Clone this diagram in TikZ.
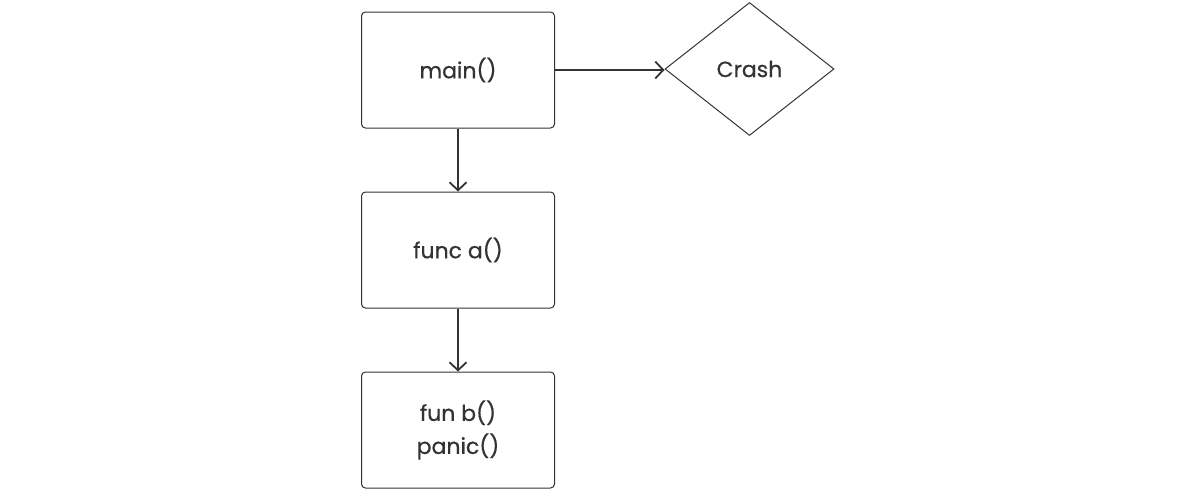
\documentclass[tikz,border=0pt]{standalone}
\usepackage{fontspec}
\setmainfont[FakeBold=0.6]{Poppins}
\usetikzlibrary{arrows.meta,shapes.geometric}
\definecolor{ink}{HTML}{333333}
\begin{document}
\begin{tikzpicture}[x=1pt,y=-1pt,
  box/.style={draw=ink,line width=1pt,rounded corners=4pt,minimum width=193pt,minimum height=116pt,inner sep=0pt,align=center,font=\fontsize{22}{33}\selectfont,text=ink},
  crashbox/.style={draw=ink,line width=1pt,diamond,minimum width=169pt,minimum height=133pt,aspect=1.27,inner sep=0pt,font=\fontsize{22}{33}\selectfont,text=ink},
  link/.style={draw=ink,line width=1.8pt,-{Straight Barb[length=8pt,width=17pt,line width=1.8pt]}}]
  \useasboundingbox (0,0) rectangle (1196,498);
  \node[box] (main) at (458,70) {main()};
  \node[box] (a) at (458,250) {func a()};
  \node[box] (b) at (458,430) {fun b()\\panic()};
  \node[crashbox] (crash) at (749.5,69) {Crash};
  \draw[link] (main.east) -- (main.east -| crash.west);
  \draw[link] (main) -- (a);
  \draw[link] (a) -- (b);
\end{tikzpicture}
\end{document}
